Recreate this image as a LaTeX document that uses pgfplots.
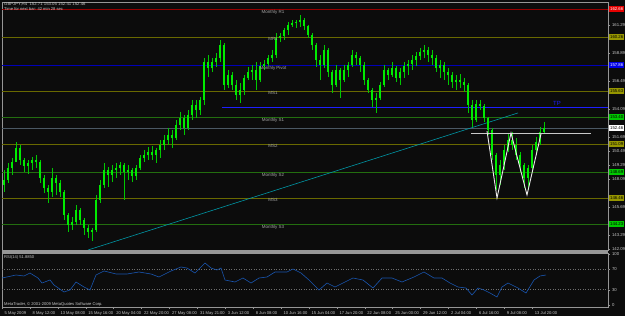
\documentclass[border=0pt]{standalone}
\usepackage{pgfplots}
\usepackage{pgfplotstable}
\usepackage{fontspec}
\setmainfont{Liberation Sans}
\pgfplotsset{compat=1.18}
\definecolor{bg}{RGB}{12,12,12}
\definecolor{frame}{RGB}{150,150,150}
\definecolor{lbl}{RGB}{200,200,200}
\definecolor{pivlbl}{RGB}{165,165,165}
\definecolor{r1red}{RGB}{150,0,0}
\definecolor{boxred}{RGB}{230,0,0}
\definecolor{olive}{RGB}{105,105,0}
\definecolor{boxolive}{RGB}{150,150,0}
\definecolor{pivblue}{RGB}{0,0,185}
\definecolor{boxblue}{RGB}{0,0,230}
\definecolor{tpblue}{RGB}{30,30,255}
\definecolor{sgreen}{RGB}{35,110,15}
\definecolor{boxgreen}{RGB}{0,200,0}
\definecolor{bidgray}{RGB}{75,88,100}
\definecolor{candle}{RGB}{0,235,0}
\definecolor{wick}{RGB}{0,200,0}
\definecolor{trend}{RGB}{0,150,165}
\definecolor{rsiblue}{RGB}{25,85,175}
\definecolor{dotgray}{RGB}{110,110,110}

\pgfplotstableread{
x o h l c
4 147.58 148.86 146.98 148.00
8 148.00 149.46 147.75 149.03
12 149.03 149.89 148.43 149.55
16 149.55 151.26 149.55 150.75
20 150.75 151.00 149.29 149.72
24 149.72 149.89 148.69 149.20
28 149.20 149.72 148.52 149.46
32 149.46 149.97 148.86 149.72
36 149.72 150.15 149.03 149.55
40 149.55 149.72 147.75 148.18
44 148.18 148.43 146.89 147.32
48 147.32 147.58 146.03 146.98
52 146.98 149.03 146.55 148.18
56 148.18 148.43 146.72 147.75
60 147.75 148.00 146.55 146.98
64 146.98 147.15 144.58 145.00
68 145.00 145.18 143.55 144.15
72 144.15 144.83 143.72 144.40
76 144.40 145.86 144.15 145.43
80 145.43 145.60 144.15 144.58
84 144.58 144.75 143.29 143.89
88 143.89 144.15 143.03 143.55
92 143.55 143.89 142.78 143.72
96 143.72 146.72 143.55 146.29
100 146.29 148.00 146.03 147.58
104 147.58 149.46 147.32 148.86
108 148.86 149.12 147.40 148.43
112 148.43 149.29 147.83 148.86
116 148.86 149.46 148.18 149.03
120 149.03 149.55 148.43 149.29
124 149.29 149.46 146.29 148.69
128 148.69 149.29 148.00 148.86
132 148.86 149.03 147.83 148.35
136 148.35 149.29 148.00 149.03
140 149.03 150.15 148.86 149.89
144 149.89 150.58 149.55 150.15
148 150.15 150.83 149.72 150.40
152 150.40 150.92 149.72 150.15
156 150.15 150.75 149.46 150.58
160 150.58 151.43 149.89 151.00
164 151.00 151.86 150.58 151.43
168 151.43 152.46 151.00 151.86
172 151.86 152.29 150.75 151.60
176 151.60 153.15 151.43 152.72
180 152.72 153.83 152.29 153.32
184 153.32 153.57 151.86 152.46
188 152.46 154.00 152.29 153.57
192 153.57 154.86 153.15 154.43
196 154.43 154.86 153.32 154.00
200 154.00 155.12 153.57 154.86
204 154.86 158.46 154.43 158.12
208 158.12 158.72 156.83 157.60
212 157.60 158.46 157.26 158.12
216 158.12 158.89 157.69 158.46
220 158.46 160.00 158.12 159.57
224 159.57 159.75 155.72 156.15
228 156.15 157.43 155.89 157.00
232 157.00 157.26 155.72 156.15
236 156.15 156.57 154.86 155.29
240 155.29 156.32 154.60 155.72
244 155.72 157.00 155.29 156.75
248 156.75 157.69 156.57 157.26
252 157.26 157.86 156.57 157.43
256 157.43 158.12 155.72 156.57
260 156.57 158.12 156.40 157.77
264 157.77 158.29 157.43 157.95
268 157.95 158.72 157.77 158.46
272 158.46 159.15 158.12 158.72
276 158.72 160.60 158.46 160.17
280 160.17 160.60 159.83 160.35
284 160.35 161.03 160.00 160.86
288 160.86 161.54 160.43 161.29
292 161.29 161.72 161.12 161.46
296 161.46 161.72 161.03 161.54
300 161.54 162.14 161.12 161.72
304 161.72 161.89 160.86 161.20
308 161.20 161.29 160.17 160.43
312 160.43 160.60 159.15 159.57
316 159.57 159.75 157.69 158.29
320 158.29 158.72 156.57 157.86
324 157.86 159.57 157.60 159.15
328 159.15 159.32 156.83 157.26
332 157.26 157.43 155.46 156.15
336 156.15 157.86 155.97 157.43
340 157.43 157.60 155.03 156.57
344 156.57 157.86 156.40 157.43
348 157.43 158.12 156.83 157.86
352 157.86 159.15 157.69 158.72
356 158.72 158.97 157.86 158.46
360 158.46 158.63 157.26 157.86
364 157.86 158.12 156.15 156.57
368 156.57 156.75 155.46 155.72
372 155.72 155.89 154.26 154.86
376 154.86 155.46 153.75 155.03
380 155.03 156.40 154.86 156.15
384 156.15 157.86 155.97 157.43
388 157.43 157.60 156.57 157.00
392 157.00 158.12 156.83 157.60
396 157.60 157.77 156.40 156.75
400 156.75 157.60 156.15 157.26
404 157.26 158.12 156.75 157.77
408 157.77 158.29 157.00 157.95
412 157.95 158.72 157.43 158.29
416 158.29 158.97 157.77 158.63
420 158.63 159.32 158.29 158.97
424 158.97 159.57 158.46 159.15
428 159.15 159.40 158.12 158.72
432 158.72 159.15 157.86 158.46
436 158.46 158.72 157.26 157.60
440 157.60 158.29 156.75 157.86
444 157.86 158.12 156.57 157.26
448 157.26 157.60 156.15 157.00
452 157.00 157.26 155.89 156.40
456 156.40 157.00 155.72 156.57
460 156.57 157.09 155.89 156.40
464 156.40 156.75 155.55 156.15
468 156.15 156.32 153.75 154.43
472 154.43 154.86 152.55 153.15
476 153.15 154.86 152.97 154.52
480 154.52 154.86 154.00 154.35
484 154.35 154.52 152.97 153.32
488 153.32 153.40 151.86 152.29
492 152.29 152.46 149.72 150.15
496 150.15 150.32 147.15 148.43
500 148.43 149.72 147.58 149.29
504 149.29 151.00 148.86 150.58
508 150.58 152.03 150.40 151.43
512 151.43 152.12 150.58 151.00
516 151.00 151.60 149.72 150.15
520 150.15 150.40 148.69 149.29
524 149.29 149.46 147.32 148.18
528 148.18 149.29 147.15 149.03
532 149.03 151.00 148.86 150.58
536 150.58 151.69 150.15 151.26
540 151.26 152.55 151.00 152.12
544 152.12 152.97 151.95 152.46
}\candles

\begin{document}
\begin{tikzpicture}
\fill[bg] (0,0) rectangle (625bp,316bp);

\begin{axis}[
  at={(2bp,66bp)}, anchor=south west,
  width=606bp, height=248bp, scale only axis,
  xmin=2, xmax=608, ymin=142.00, ymax=163.26,
  clip=false,
  axis line style={draw=frame, line width=0.8bp},
  xtick=\empty,
  ytick={142.09,143.29,145.69,148.09,149.29,150.49,151.69,154.09,156.49,158.89,161.29},
  ytick pos=right, yticklabel pos=right,
  tick align=outside, major tick length=2bp,
  ytick style={draw=frame, line width=0.4bp},
  yticklabel style={font=\fontsize{4.3}{5}\selectfont, color=lbl, xshift=-1.5bp},
  /pgf/number format/assume math mode=true,
  /pgf/number format/fixed, /pgf/number format/fixed zerofill,
  /pgf/number format/precision=2,
  scaled y ticks=false,
]
% horizontal level lines
\addplot[r1red, line width=0.6bp] coordinates {(2,162.66) (608,162.66)};
\addplot[olive, line width=0.6bp] coordinates {(2,160.26) (608,160.26)};
\addplot[pivblue, line width=0.6bp] coordinates {(2,157.86) (608,157.86)};
\addplot[olive, line width=0.6bp] coordinates {(2,155.63) (608,155.63)};
\addplot[tpblue, line width=0.6bp] coordinates {(222,154.26) (608,154.26)};
\addplot[sgreen, line width=0.6bp] coordinates {(2,153.40) (608,153.40)};
\addplot[bidgray, line width=0.6bp] coordinates {(2,152.46) (608,152.46)};
\addplot[olive, line width=0.6bp] coordinates {(2,151.09) (608,151.09)};
\addplot[sgreen, line width=0.6bp] coordinates {(2,148.69) (608,148.69)};
\addplot[olive, line width=0.6bp] coordinates {(2,146.46) (608,146.46)};
\addplot[sgreen, line width=0.6bp] coordinates {(2,144.23) (608,144.23)};
% trend line
\addplot[trend, line width=0.6bp] coordinates {(88,142.00) (518,153.75)};
% candles: wicks and bodies
\addplot[draw=none, mark=none, forget plot,
  error bars/.cd, y dir=plus, y explicit, error mark=none,
  error bar style={draw=wick, line width=0.7bp}]
  table[x=x, y=l, y error expr=\thisrow{h}-\thisrow{l}] {\candles};
\addplot[draw=none, mark=none, forget plot,
  error bars/.cd, y dir=plus, y explicit, error mark=none,
  error bar style={draw=candle, line width=2.2bp}]
  table[x=x, y expr={min(\thisrow{o},\thisrow{c})}, y error expr={abs(\thisrow{c}-\thisrow{o})}] {\candles};
% neckline and W pattern
\addplot[lbl, line width=0.7bp] coordinates {(471,152.03) (591,152.03)};
\addplot[white!92!black, line width=0.9bp] coordinates {(487,152.20) (497,146.46) (511,152.03) (527,146.72) (541,151.95)};
% level labels
\begin{scope}[every node/.style={font=\fontsize{4.5}{5}\selectfont, color=pivlbl, inner sep=0.6bp, anchor=north}]
\node at (axis cs:273,162.66) {Monthly R1};
\node at (axis cs:273,160.26) {MR1};
\node at (axis cs:273,157.86) {Monthly Pivot};
\node at (axis cs:273,155.63) {MS1};
\node at (axis cs:273,153.40) {Monthly S1};
\node at (axis cs:273,151.09) {MS2};
\node at (axis cs:273,148.69) {Monthly S2};
\node at (axis cs:273,146.46) {MS3};
\node at (axis cs:273,144.23) {Monthly S3};
\end{scope}
\node[font=\fontsize{6}{6}\selectfont, color=tpblue, inner sep=0pt] at (axis cs:557,154.55) {TP};
\coordinate (bA) at (axis cs:608,162.66);
\coordinate (bB) at (axis cs:608,160.26);
\coordinate (bC) at (axis cs:608,157.86);
\coordinate (bD) at (axis cs:608,155.63);
\coordinate (bE) at (axis cs:608,153.40);
\coordinate (bF) at (axis cs:608,152.46);
\coordinate (bG) at (axis cs:608,151.09);
\coordinate (bH) at (axis cs:608,148.69);
\coordinate (bI) at (axis cs:608,146.46);
\coordinate (bJ) at (axis cs:608,144.23);
\end{axis}

% separator between panels
\fill[frame] (2bp,63.2bp) rectangle (608bp,65.8bp);

\begin{axis}[
  at={(2bp,9bp)}, anchor=south west,
  width=606bp, height=54bp, scale only axis,
  xmin=2, xmax=608, ymin=-3.92, ymax=101.96,
  clip=false,
  axis line style={draw=frame, line width=0.8bp},
  xtick={2,29.9,57.8,85.7,113.6,141.5,169.4,197.3,225.2,253.1,281,308.9,336.8,364.7,392.6,420.5,448.4,476.3,504.2,532.1},
  xticklabels={5 May 2009,8 May 12:00,13 May 08:00,15 May 16:00,20 May 04:00,22 May 20:00,27 May 08:00,31 May 21:00,3 Jun 12:00,8 Jun 08:00,10 Jun 16:00,15 Jun 04:00,17 Jun 20:00,22 Jun 08:00,25 Jun 00:00,29 Jun 12:00,2 Jul 04:00,6 Jul 16:00,9 Jul 08:00,13 Jul 20:00},
  xtick pos=bottom,
  xticklabel style={font=\fontsize{4.1}{5}\selectfont, color=lbl, anchor=north west, xshift=-0.8bp, yshift=1bp},
  ytick={0,30,70,100}, ytick pos=right, yticklabel pos=right,
  yticklabel style={font=\fontsize{4.3}{5}\selectfont, color=lbl, xshift=-1.5bp},
  tick align=outside, major tick length=2bp,
  tick style={draw=frame, line width=0.4bp},
  /pgf/number format/assume math mode=true,
]
\addplot[dotgray, dotted, line width=0.5bp] coordinates {(2,70) (608,70)};
\addplot[dotgray, dotted, line width=0.5bp] coordinates {(2,30) (608,30)};
\addplot[rsiblue, line width=0.6bp] coordinates {
(2,52.9) (16,58.8) (24,56.9) (30,62.7) (38,52.9) (42,43.1) (50,49.0) (54,39.2)
(64,25.5) (70,29.4) (76,45.1) (84,35.3) (90,29.4) (96,58.8) (104,66.7) (116,60.8)
(127,60.8) (139,64.7) (151,60.8) (159,54.9) (171,66.7) (181,74.5) (187,72.5) (195,62.7)
(205,82.4) (211,72.5) (217,68.6) (221,72.5) (225,49.0) (235,45.1) (243,52.9) (251,43.1)
(259,52.9) (267,54.9) (275,64.7) (287,64.7) (293,70.6) (301,62.7) (309,49.0) (319,29.4)
(327,43.1) (335,35.3) (343,43.1) (353,52.9) (363,49.0) (373,33.3) (382,52.9) (392,52.9)
(402,45.1) (414,54.9) (424,64.7) (434,52.9) (442,52.9) (450,43.1) (458,35.3) (466,33.3)
(472,19.6) (478,33.3) (484,29.4) (490,23.5) (497,15.7) (502,35.3) (508,43.1) (518,33.3)
(526,23.5) (534,49.0) (540,56.9) (546,58.8)};
\end{axis}

% texts
\node[anchor=west, font=\fontsize{4.3}{5}\selectfont, color=lbl, inner sep=0pt] at (4bp,311.5bp) {GBPJPY,H4\ \ 152.71 153.05 152.41 152.46};
\node[anchor=west, font=\fontsize{4.1}{5}\selectfont, color=lbl, inner sep=0pt] at (4bp,306.5bp) {Time for next bar: 42 min 28 sec};
\node[anchor=west, font=\fontsize{4.1}{5}\selectfont, color=lbl, inner sep=0pt] at (4bp,59bp) {RSI(14) 51.8850};
\node[anchor=west, font=\fontsize{4.1}{5}\selectfont, color=lbl, inner sep=0pt] at (4bp,12bp) {MetaTrader, \textcopyright\ 2001-2009 MetaQuotes Software Corp.};

% right-hand price boxes
\begin{scope}[every node/.style={anchor=west, font=\fontsize{4.3}{5}\selectfont, inner sep=0.5bp, minimum width=15bp, minimum height=5.5bp, xshift=1bp}]
\node[fill=boxred, text=white] at (bA) {162.66};
\node[fill=boxolive, text=black] at (bB) {160.26};
\node[fill=boxblue, text=white] at (bC) {157.86};
\node[fill=boxolive, text=black] at (bD) {155.63};
\node[fill=boxgreen, text=black] at (bE) {153.40};
\node[fill=white, text=black] at (bF) {152.46};
\node[fill=boxolive, text=black] at (bG) {151.09};
\node[fill=boxgreen, text=black] at (bH) {148.69};
\node[fill=boxolive, text=black] at (bI) {146.46};
\node[fill=boxgreen, text=black] at (bJ) {144.23};
\end{scope}

\pgfresetboundingbox
\path[use as bounding box] (0,0) rectangle (625bp,316bp);
\end{tikzpicture}
\end{document}
